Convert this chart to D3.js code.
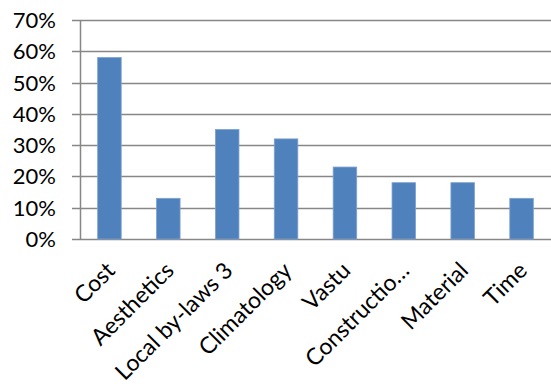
<!DOCTYPE html>
<html><head><meta charset="utf-8">
<script src="https://d3js.org/d3.v7.min.js"></script>
<style>body{margin:0;background:#fff}svg{display:block}text{font-family:Lato,"Open Sans",sans-serif;fill:#000}</style>
</head><body>
<script>
const categories = ["Cost","Aesthetics","Local by-laws 3","Climatology","Vastu","Constructio…","Material","Time"];
const values = [0.58,0.13,0.35,0.32,0.23,0.18,0.18,0.13];
const yTicks = [0,0.1,0.2,0.3,0.4,0.5,0.6,0.7];

const W=551,H=389;
const m={left:80,right:0,top:20,bottom:150};
const svg=d3.select("body").append("svg").attr("width",W).attr("height",H);
const x=d3.scaleBand().domain(categories).range([m.left,W-m.right]).paddingInner(0.6).paddingOuter(0.3);
const y=d3.scaleLinear().domain([0,0.7]).range([239,20]);

// gridlines
svg.append("g").selectAll("line").data(yTicks).join("line")
  .attr("x1",72).attr("x2",W).attr("y1",d=>Math.round(y(d))+0.5).attr("y2",d=>Math.round(y(d))+0.5)
  .attr("stroke","#878787").attr("stroke-width",1.5);
// y axis line
svg.append("line").attr("x1",80.5).attr("x2",80.5).attr("y1",y(0.7)).attr("y2",y(0)+1)
  .attr("stroke","#878787").attr("stroke-width",1.5);
// y labels
svg.append("g").selectAll("text").data(yTicks).join("text")
  .attr("x",56).attr("y",d=>y(d)+8).attr("text-anchor","end").attr("font-size",22)
  .text(d3.format(".0%"));
// bars
svg.append("g").selectAll("rect").data(values).join("rect")
  .attr("x",(d,i)=>x(categories[i])).attr("width",x.bandwidth())
  .attr("y",d=>y(d)).attr("height",d=>y(0)-y(d))
  .attr("fill","#4F81BD").attr("stroke","#7DA2D0").attr("stroke-width",0.8);
// x labels
svg.append("g").selectAll("text").data(categories).join("text")
  .attr("text-anchor","end").attr("font-size",23)
  .attr("transform",d=>`translate(${x(d)+x.bandwidth()/2+7},272) rotate(-45)`)
  .text(d=>d);
</script>
</body></html>
